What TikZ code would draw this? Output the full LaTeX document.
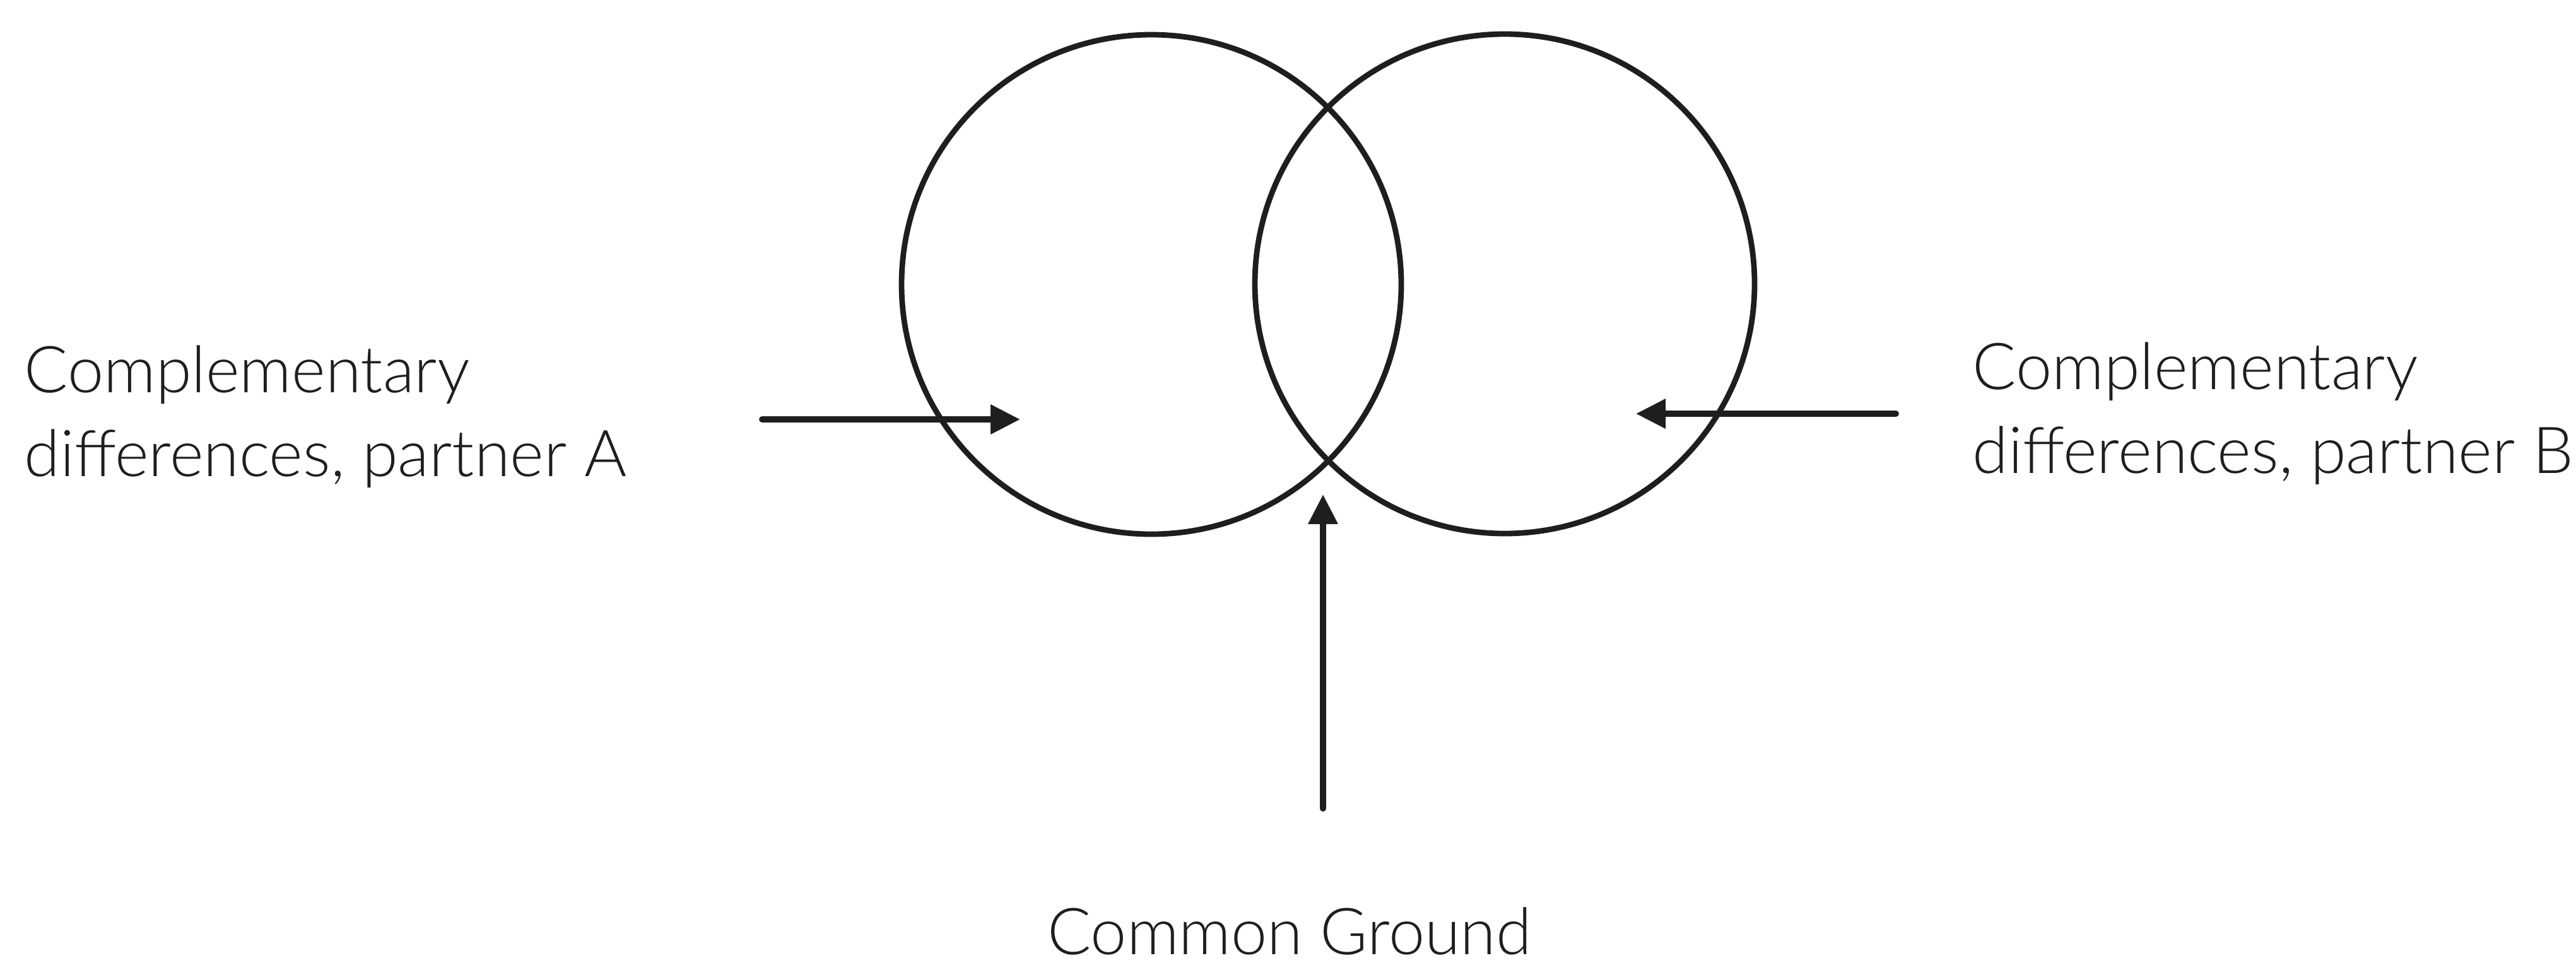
\documentclass[tikz,border=0pt]{standalone}
\usepackage{fontspec}
\setmainfont{Lato Light}
\usetikzlibrary{arrows.meta}
\definecolor{ink}{RGB}{30,30,30}
\begin{document}
\begin{tikzpicture}[
  ring/.style={circle, draw=ink, line width=2.5pt, minimum size=7.92cm, inner sep=0pt},
  pointer/.style={draw=ink, line width=2.8pt, line cap=round, -{Triangle[length=0.47cm, width=0.45cm]}},
  label/.style={text=ink, font=\fontsize{29.2}{37.6}\selectfont, inner sep=0pt, align=left}
]
\useasboundingbox (0,0) rectangle (40.83,-15.26);
\node[ring] (cA) at (18.25,-4.51) {};
\node[ring] (cB) at (23.85,-4.50) {};
\node[label, anchor=base west] (tA) at (0.38,-7.55) {Complementary\\differences, partner A};
\node[label, anchor=base west] (tB) at (31.26,-7.50) {Complementary\\differences, partner B};
\node[label, anchor=base, text depth=0pt] (tC) at (20.44,-15.13) {Common Ground};
\coordinate (aS) at (12.08,-6.65);
\coordinate (aE) at (16.17,-6.65);
\coordinate (bS) at (30.05,-6.56);
\coordinate (bE) at (25.93,-6.56);
\coordinate (cS) at (20.97,-12.82);
\coordinate (cE) at (20.97,-7.84);
\draw[pointer] (aS) -- (aE);
\draw[pointer] (bS) -- (bE);
\draw[pointer] (cS) -- (cE);
\end{tikzpicture}
\end{document}
